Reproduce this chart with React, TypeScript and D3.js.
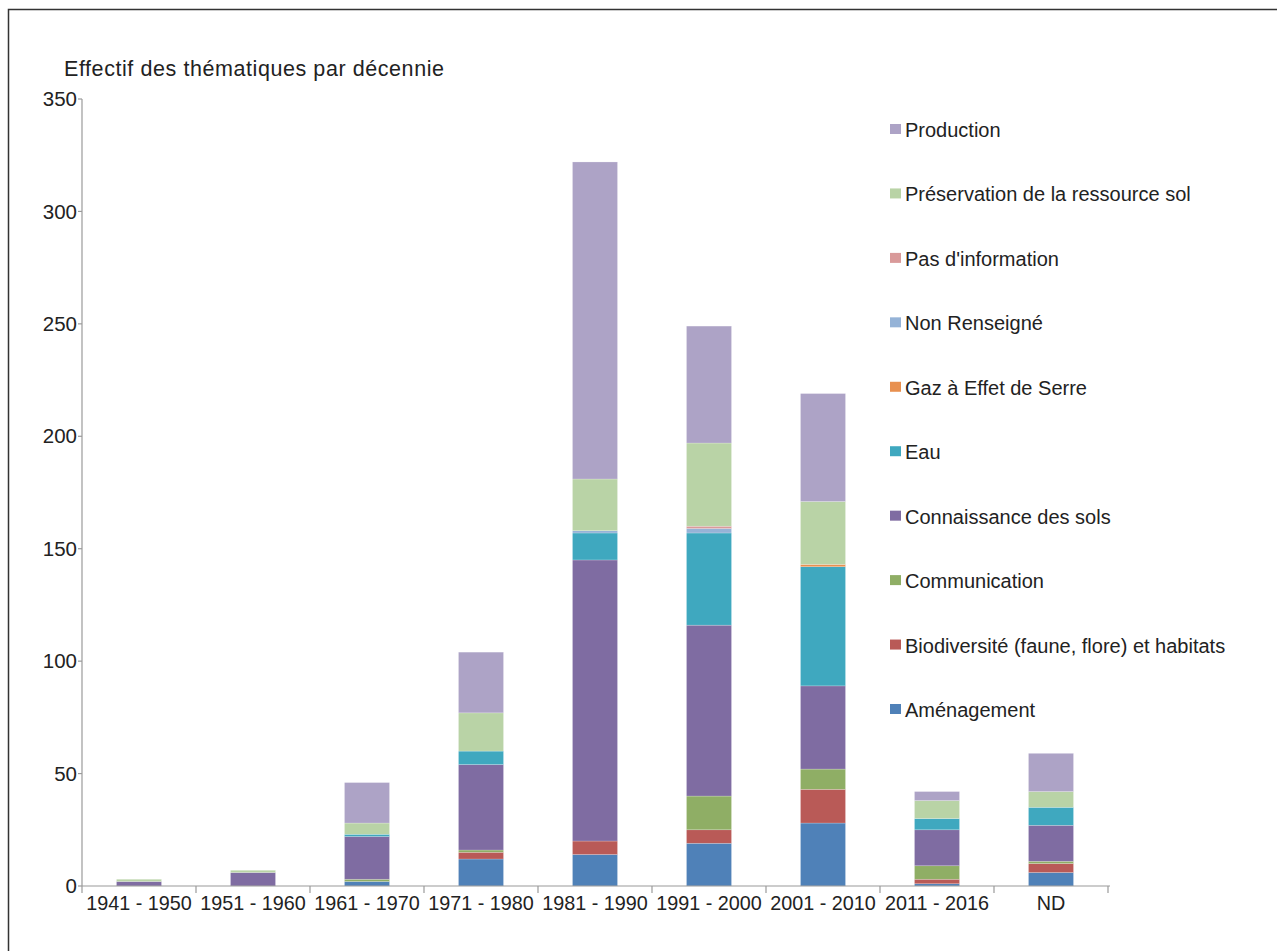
import React from "react";
import * as d3 from "d3";

const decades = ["1941 - 1950", "1951 - 1960", "1961 - 1970", "1971 - 1980", "1981 - 1990", "1991 - 2000", "2001 - 2010", "2011 - 2016", "ND"];

// series, bottom to top
const amenagement = [0, 0, 2, 12, 14, 19, 28, 1, 6];
const biodiversite = [0, 0, 0, 3, 6, 6, 15, 2, 4];
const communication = [0, 0, 1, 1, 0, 15, 9, 6, 1];
const connaissance = [2, 6, 19, 38, 125, 76, 37, 16, 16];
const eau = [0, 0, 1, 6, 12, 41, 53, 5, 8];
const gaz = [0, 0, 0, 0, 0, 0, 1, 0, 0];
const nonRenseigne = [0, 0, 0, 0, 1, 2, 0, 0, 0];
const pasInformation = [0, 0, 0, 0, 0, 1, 0, 0, 0];
const preservation = [1, 1, 5, 17, 23, 37, 28, 8, 7];
const production = [0, 0, 18, 27, 141, 52, 48, 4, 17];

const seriesNames = [
  "Aménagement",
  "Biodiversité (faune, flore) et habitats",
  "Communication",
  "Connaissance des sols",
  "Eau",
  "Gaz à Effet de Serre",
  "Non Renseigné",
  "Pas d'information",
  "Préservation de la ressource sol",
  "Production",
];
const seriesValues = [amenagement, biodiversite, communication, connaissance, eau, gaz, nonRenseigne, pasInformation, preservation, production];
const seriesColors = ["#4f81b8", "#b95a57", "#8fae65", "#7f6ca2", "#3fa8bf", "#e8904f", "#95b3d7", "#d99a9a", "#b9d3a6", "#ada3c6"];

const yTicks = [0, 50, 100, 150, 200, 250, 300, 350];

const W = 1277;
const H = 951;
const FONT = "'Liberation Sans', Arial, Helvetica, sans-serif";

export default function App() {
  const x = d3.scaleBand<string>().domain(decades).range([82, 1108]).padding(0);
  const y = d3.scaleLinear().domain([0, 350]).range([886, 99]);
  const barW = x.bandwidth() * 0.395;

  const rows = decades.map((d, i) => {
    const r: Record<string, number | string> = { decade: d };
    seriesNames.forEach((n, k) => (r[n] = seriesValues[k][i]));
    return r;
  });
  const stacked = d3.stack<Record<string, number | string>>().keys(seriesNames)(rows as any);

  const legendOrder = seriesNames.map((_, k) => k).reverse();
  const legendY = d3.scalePoint<number>().domain(legendOrder).range([130, 710]);

  return (
    <svg width={W} height={H} style={{ position: "absolute", left: 0, top: 0, background: "#fff" }} fontFamily={FONT}>
      <rect x={8.5} y={9.5} width={W + 20} height={H + 20} fill="#fff" stroke="#333" strokeWidth={1.5} />

      <text x={64} y={76} fontSize={21.5} fill="#222" textLength={380} lengthAdjust="spacing">Effectif des thématiques par décennie</text>

      {/* bars */}
      {stacked.map((layer, k) => (
        <g key={seriesNames[k]} fill={seriesColors[k]}>
          {layer.map((seg, i) => {
            const h = y(seg[0]) - y(seg[1]);
            if (h <= 0) return null;
            return (
              <rect
                key={i}
                x={(x(decades[i]) as number) + (x.bandwidth() - barW) / 2}
                y={y(seg[1])}
                width={barW}
                height={h}
                stroke="#ffffff"
                strokeOpacity={0.35}
                strokeWidth={0.6}
              />
            );
          })}
        </g>
      ))}

      {/* y axis */}
      <line x1={82} x2={82} y1={y(350)} y2={y(0)} stroke="#9a9a9a" strokeWidth={1.2} />
      {yTicks.map((t) => (
        <g key={t}>
          <line x1={78} x2={82} y1={y(t)} y2={y(t)} stroke="#9a9a9a" strokeWidth={1.2} />
          <text x={77} y={y(t)} dy="0.35em" textAnchor="end" fontSize={20.5} fill="#222">{t}</text>
        </g>
      ))}

      {/* x axis */}
      <line x1={82} x2={1110} y1={y(0)} y2={y(0)} stroke="#9a9a9a" strokeWidth={1.2} />
      {decades.map((d) => (
        <line key={"t" + d} x1={x(d)} x2={x(d)} y1={y(0)} y2={y(0) + 7} stroke="#9a9a9a" strokeWidth={1.2} />
      ))}
      <line x1={1108} x2={1108} y1={y(0)} y2={y(0) + 7} stroke="#9a9a9a" strokeWidth={1.2} />
      {decades.map((d) => (
        <text key={"l" + d} x={(x(d) as number) + x.bandwidth() / 2} y={903} dy="0.35em" textAnchor="middle" fontSize={19.8} fill="#222">{d}</text>
      ))}

      {/* legend */}
      {legendOrder.map((k) => (
        <g key={"lg" + k} transform={`translate(890, ${legendY(k)})`}>
          <rect x={0} y={-6} width={11} height={10} fill={seriesColors[k]} />
          <text x={15} y={0} dy="0.35em" fontSize={20} fill="#222">{seriesNames[k]}</text>
        </g>
      ))}
    </svg>
  );
}
